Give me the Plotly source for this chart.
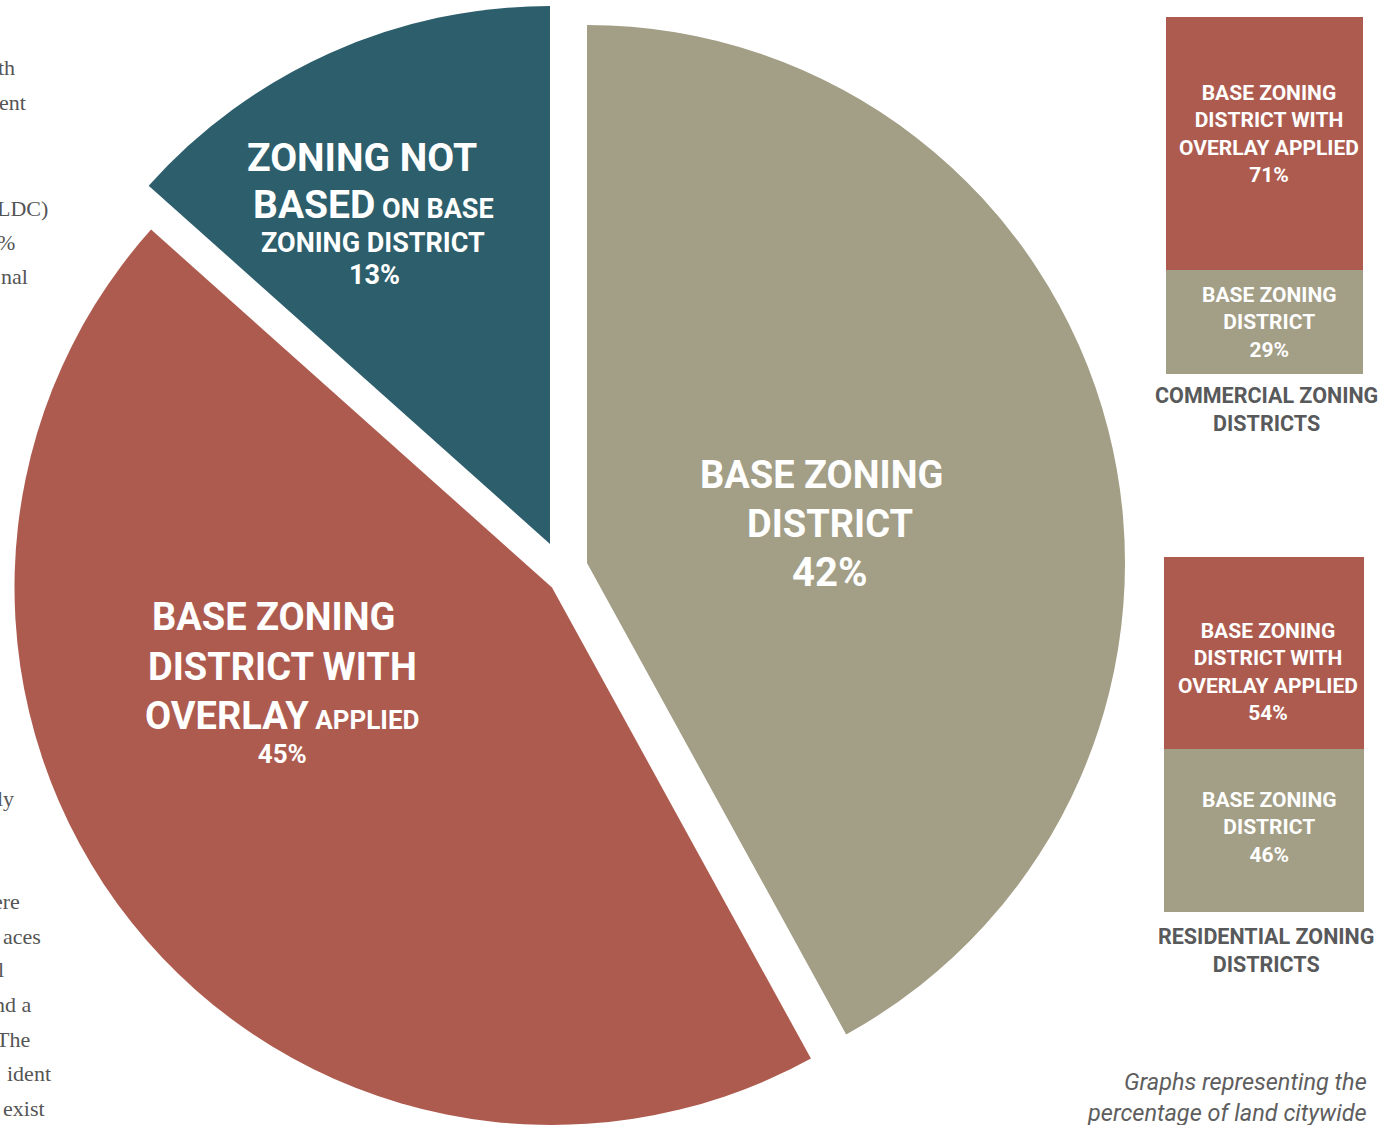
import plotly.graph_objects as go

# ---------------- data ----------------
pie_labels = ["BASE ZONING DISTRICT",
              "BASE ZONING DISTRICT WITH OVERLAY APPLIED",
              "ZONING NOT BASED ON BASE ZONING DISTRICT"]
pie_values = [42.0, 44.6, 13.4]          # labelled as 42%, 45%, 13%
pie_colors = ["#A39E86", "#AE5B4F", "#2D5E6B"]

bar_groups = ["COMMERCIAL ZONING<br>DISTRICTS", "RESIDENTIAL ZONING<br>DISTRICTS"]
bar_base = [29, 46]        # base zoning district
bar_overlay = [71, 54]     # base zoning district with overlay applied
bar_seg_labels = ["BASE ZONING<br>DISTRICT", "BASE ZONING<br>DISTRICT WITH<br>OVERLAY APPLIED"]

caption = "Graphs representing the<br>percentage of land citywide"

side_fragments = ["th", "ent", "LDC)", "%", "nal", "ly", "ere", "aces", "l", "nd a", "The", "ident", "exist"]

# ---------------- layout helpers ----------------
W, H = 1395, 1125
R = 538
FONT = "Roboto, 'Open Sans', Arial, sans-serif"


def px(x):
    return x / W


def py(y):
    return (H - y) / H


fig = go.Figure()

# one pie trace per exploded slice (other slices transparent)
slice_apex = [(587, 563), (552, 588), (550, 544)]
for i, (cx, cy) in enumerate(slice_apex):
    cols = [pie_colors[j] if j == i else "rgba(0,0,0,0)" for j in range(len(pie_values))]
    fig.add_trace(go.Pie(
        values=pie_values, labels=pie_labels, sort=False, direction="clockwise", rotation=0,
        marker=dict(colors=cols, line=dict(width=0)), textinfo="none",
        hoverinfo="label+percent", showlegend=False,
        domain=dict(x=[px(cx - R), px(cx + R)], y=[max(0, py(cy + R)), py(cy - R)]),
    ))

# stacked 100% bars
axes = [("x", "y"), ("x2", "y2")]
for k, (xa, ya) in enumerate(axes):
    fig.add_trace(go.Bar(x=[0], y=[bar_base[k]], width=1, marker=dict(color=pie_colors[0], line=dict(width=0)),
                         xaxis=xa, yaxis=ya, showlegend=False, hoverinfo="y"))
    fig.add_trace(go.Bar(x=[0], y=[bar_overlay[k]], width=1, marker=dict(color=pie_colors[1], line=dict(width=0)),
                         xaxis=xa, yaxis=ya, showlegend=False, hoverinfo="y"))

annotations = []

# pie labels (line by line)
big = 38
pct = [f"{round(v)}%" for v in pie_values]
pie_lines = [
    # teal
    ("ZONING NOT", 39, 362, 171),
    ("BASED<span style='font-size:27px'> ON BASE</span>", 39, 373, 218),
    ("ZONING DISTRICT", 27, 373, 252),
    (pct[2], 27, 374, 284),
    # gray
    ("BASE ZONING", big, 821, 488),
    ("DISTRICT", big, 830, 537),
    (pct[0], 40, 830, 586),
    # red
    ("BASE ZONING", big, 273, 630),
    ("DISTRICT WITH", big, 282, 680),
]
for text, size, cx, base in pie_lines:
    annotations.append(dict(
        text=text, x=px(cx), y=py(base - 0.34 * size), xref="paper", yref="paper",
        xanchor="center", yanchor="middle", showarrow=False,
        font=dict(family=FONT, size=size, color="white", weight="bold"),
    ))
# red: last two lines in one block (tight line spacing)
annotations.append(dict(
    text=f"<span style='font-size:38px'>OVERLAY</span> APPLIED<br>{pct[1]}",
    x=px(282), y=py(731), xref="paper", yref="paper", xanchor="center", yanchor="middle",
    showarrow=False, font=dict(family=FONT, size=26, color="white", weight="bold"),
))

# bar segment labels
seg_shift = [(10, 0), (-19, 3)]  # (overlay, base) vertical nudges
for k, (xa, ya) in enumerate(axes):
    annotations.append(dict(
        text=bar_seg_labels[1] + f"<br>{bar_overlay[k]}%", x=0, y=bar_base[k] + bar_overlay[k] / 2,
        xref=xa, yref=ya, showarrow=False, xshift=4, yshift=seg_shift[k][0],
        font=dict(family=FONT, size=21, color="white", weight="bold")))
    annotations.append(dict(
        text=bar_seg_labels[0] + f"<br>{bar_base[k]}%", x=0, y=bar_base[k] / 2,
        xref=xa, yref=ya, showarrow=False, xshift=5, yshift=seg_shift[k][1],
        font=dict(family=FONT, size=21, color="white", weight="bold")))
    annotations.append(dict(
        text=bar_groups[k], x=0, y=0, xref=xa, yref=ya, yanchor="top", showarrow=False,
        xshift=2, yshift=-7 if k == 0 else -10,
        font=dict(family=FONT, size=21.5, color="#58595B", weight="bold")))

# caption
annotations.append(dict(
    text=caption, x=px(1369), y=py(1097), xref="paper", yref="paper", xanchor="right", yanchor="middle",
    align="right", showarrow=False, font=dict(family=FONT, size=23.5, color="#5E5E5E", style="italic")))

# cropped body-text fragments on the left edge
frag_pos = [(17, 75), (28, 110), (50, 216), (17, 250), (30, 284), (16, 806), (22, 909), (43, 944),
            (6, 977), (34, 1012), (32, 1047), (53, 1081), (47, 1116)]
for t, (rx, base) in zip(side_fragments, frag_pos):
    annotations.append(dict(
        text=t, x=px(rx), y=py(base - 0.34 * 22), xref="paper", yref="paper", xanchor="right",
        yanchor="middle", showarrow=False,
        font=dict(family="'Liberation Serif', 'DejaVu Serif', serif", size=22, color="#555555")))

fig.update_layout(
    width=W, height=H, margin=dict(l=0, r=0, t=0, b=0),
    paper_bgcolor="white", plot_bgcolor="white", barmode="stack", showlegend=False,
    xaxis=dict(domain=[px(1166), px(1363)], range=[-0.5, 0.5], visible=False, fixedrange=True),
    yaxis=dict(domain=[py(374), py(17)], range=[0, 100], visible=False, fixedrange=True),
    xaxis2=dict(domain=[px(1164), px(1364)], range=[-0.5, 0.5], visible=False, fixedrange=True),
    yaxis2=dict(domain=[py(912), py(557)], range=[0, 100], visible=False, fixedrange=True),
    annotations=annotations,
)

fig.write_html("out.html", config={"displayModeBar": False},
               post_script="document.body.style.margin='0';document.body.style.overflow='hidden';")
